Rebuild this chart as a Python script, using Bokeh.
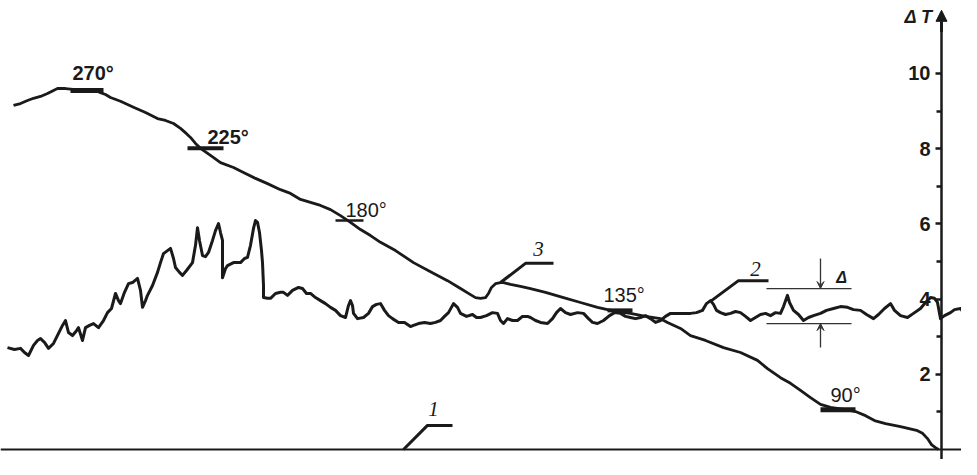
from bokeh.plotting import figure
from bokeh.models import Range1d, LinearAxis, FixedTicker, Arrow, NormalHead, VeeHead, ColumnDataSource
from bokeh.core.properties import value
from bokeh.embed import file_html
from bokeh.resources import INLINE

# ---- data (x in arbitrary sweep units, y = ΔT) ----
curve1_x = [0, 977]
curve1_y = [0.0, 0.0]

curve3_x = [13, 20, 27, 33, 40, 47, 53, 57, 65, 75, 85, 95, 100, 105, 110, 120, 133, 145, 157, 165,
            173, 180, 186, 190, 195, 200, 210, 220, 233, 245, 255, 267, 280, 290, 300, 310, 320, 330, 340, 350,
            360, 370, 380, 395, 413, 430, 447, 460, 470, 475, 480, 485, 488, 491, 495, 500, 503, 510, 520, 530,
            545, 563, 580, 597, 607, 617, 630, 645, 660, 667, 680, 690, 705, 723, 740, 757, 767, 780, 790, 800,
            810, 820, 830, 845, 855, 865, 874, 885, 900, 916, 922, 927, 931, 935, 938]
curve3_y = [9.15, 9.20, 9.28, 9.34, 9.39, 9.47, 9.55, 9.60, 9.60, 9.57, 9.57, 9.55, 9.49, 9.44, 9.36, 9.26, 9.10, 8.96, 8.80, 8.75,
            8.67, 8.54, 8.40, 8.30, 8.14, 8.01, 7.82, 7.63, 7.50, 7.34, 7.21, 7.07, 6.91, 6.81, 6.65, 6.57, 6.49, 6.38, 6.22, 6.04,
            5.85, 5.69, 5.51, 5.29, 4.97, 4.73, 4.49, 4.28, 4.12, 4.04, 4.02, 4.04, 4.15, 4.31, 4.41, 4.44, 4.44, 4.39, 4.34, 4.28,
            4.18, 4.04, 3.91, 3.78, 3.72, 3.67, 3.62, 3.54, 3.48, 3.38, 3.22, 3.03, 2.90, 2.71, 2.58, 2.37, 2.15, 1.91, 1.76, 1.57,
            1.38, 1.20, 1.12, 1.06, 1.01, 0.90, 0.77, 0.69, 0.61, 0.51, 0.43, 0.29, 0.13, 0.05, 0.0]

curve2_x = [7, 14, 20, 24, 28, 33, 37, 40, 44, 48, 53, 58, 62, 65, 68, 72, 76, 78, 82, 85,
            89, 93, 98, 103, 107, 111, 115, 118, 120, 124, 128, 132, 137, 140, 142, 145, 147, 152, 157, 160,
            163, 167, 170, 173, 175, 179, 182, 186, 192, 195, 197, 199, 202, 205, 208, 212, 215, 218, 220, 222,
            222, 225, 227, 233, 240, 244, 247, 250, 253, 255, 257, 259, 261, 262, 263, 263, 267, 270, 275, 280,
            283, 287, 292, 298, 302, 306, 310, 315, 320, 325, 330, 335, 340, 345, 348, 350, 352, 353, 357, 363,
            368, 372, 376, 380, 384, 388, 392, 398, 404, 410, 413, 418, 424, 430, 435, 440, 444, 448, 453, 457,
            460, 466, 472, 476, 480, 486, 492, 497, 500, 503, 507, 512, 517, 522, 527, 530, 535, 540, 547, 552,
            556, 560, 565, 570, 577, 583, 588, 592, 597, 603, 609, 614, 620, 625, 630, 635, 640, 645, 650, 655,
            660, 665, 670, 680, 690, 696, 702, 706, 710, 713, 716, 720, 725, 730, 735, 740, 745, 750, 755, 760,
            765, 770, 775, 780, 783, 787, 789, 793, 798, 803, 808, 813, 820, 826, 833, 840, 847, 853, 860, 866,
            873, 878, 884, 890, 894, 900, 907, 913, 920, 925, 930, 934, 937, 940, 944, 950, 954, 960, 963, 968,
            973]
curve2_y = [2.71, 2.66, 2.69, 2.58, 2.50, 2.77, 2.90, 2.95, 2.85, 2.69, 2.82, 3.09, 3.30, 3.43, 3.11, 3.03, 3.16, 3.24, 2.90, 3.24,
            3.30, 3.35, 3.24, 3.43, 3.64, 3.75, 4.15, 3.96, 3.88, 4.18, 4.41, 4.44, 4.55, 4.23, 3.78, 3.96, 4.10, 4.36, 4.71, 4.97,
            5.21, 5.29, 5.35, 5.08, 4.84, 4.71, 4.63, 4.76, 4.97, 5.43, 5.90, 5.56, 5.16, 5.13, 5.24, 5.56, 5.82, 6.01, 5.77, 5.56,
            4.57, 4.81, 4.89, 4.97, 4.97, 5.08, 5.11, 5.43, 5.88, 6.09, 6.04, 5.77, 5.29, 4.97, 4.36, 4.04, 4.02, 4.02, 4.15, 4.18,
            4.18, 4.10, 4.23, 4.31, 4.28, 4.15, 4.15, 4.04, 3.96, 3.88, 3.78, 3.70, 3.56, 3.51, 3.83, 3.96, 3.83, 3.62, 3.48, 3.51,
            3.62, 3.80, 3.86, 3.88, 3.70, 3.56, 3.48, 3.38, 3.38, 3.27, 3.30, 3.35, 3.38, 3.35, 3.38, 3.43, 3.54, 3.64, 3.88, 3.78,
            3.62, 3.54, 3.59, 3.51, 3.51, 3.56, 3.64, 3.62, 3.43, 3.35, 3.48, 3.43, 3.43, 3.54, 3.54, 3.51, 3.43, 3.38, 3.35, 3.48,
            3.64, 3.75, 3.64, 3.59, 3.64, 3.62, 3.48, 3.38, 3.35, 3.43, 3.56, 3.64, 3.62, 3.54, 3.51, 3.48, 3.51, 3.56, 3.48, 3.38,
            3.43, 3.54, 3.62, 3.62, 3.62, 3.64, 3.70, 3.88, 3.96, 3.86, 3.70, 3.64, 3.59, 3.62, 3.67, 3.64, 3.54, 3.43, 3.51, 3.59,
            3.62, 3.56, 3.64, 3.62, 3.80, 4.10, 3.91, 3.70, 3.59, 3.43, 3.51, 3.56, 3.62, 3.70, 3.75, 3.80, 3.78, 3.72, 3.70, 3.59,
            3.48, 3.59, 3.75, 3.88, 3.70, 3.56, 3.51, 3.62, 3.75, 3.91, 4.04, 4.02, 3.91, 3.48, 3.56, 3.64, 3.72, 3.75, 3.64, 3.51,
            3.35]

# angle marks on curve 3
angle_labels = ["270°", "225°", "180°", "135°", "90°"]
mark_x0 = [70, 187, 335, 607, 820]
mark_x1 = [103, 223, 363, 632, 855]
mark_y = [9.55, 8.01, 6.09, 3.70, 1.06]
mark_w = [5, 4, 2.5, 4, 5]
angle_lbl_x = [72, 207, 345, 603, 830]
angle_lbl_y = [10.00, 8.30, 6.36, 4.10, 1.44]
angle_lbl_style = ["bold", "bold", "normal", "normal", "normal"]

# curve number leaders
curve_ids = ["1", "3", "2"]
leader_xs = [[403, 427, 452], [500, 525, 553], [711, 738, 768]]
leader_ys = [[0.0, 0.64, 0.64], [4.44, 4.95, 4.95], [3.96, 4.49, 4.49]]
id_x = [433, 538, 755]
id_y = [1.09, 5.32, 4.81]

# noise amplitude Δ
delta_hi = 4.28
delta_lo = 3.35
delta_x0, delta_x1, delta_xc = 766, 851, 820
delta_top, delta_bot = 5.08, 2.71

y_ticks = [2, 4, 6, 8, 10]
y_minor = [1, 3, 5, 7, 9]

FONT = "Liberation Sans"

p = figure(width=961, height=459, x_range=Range1d(0, 961), y_range=Range1d(-0.266, 11.941),
           output_backend="svg", toolbar_location=None, min_border=0,
           x_axis_type=None, y_axis_type=None, outline_line_color=None,
           background_fill_color="white", border_fill_color="white")

# baseline (curve 1)
p.line(curve1_x, curve1_y, line_color="#1a1a1a", line_width=2.2)
# curve 3
p.line(curve3_x, curve3_y, line_color="#1a1a1a", line_width=2.8, line_join="round")
# curve 2
p.line(curve2_x, curve2_y, line_color="#1a1a1a", line_width=3, line_join="round")

# angle marks
p.segment(x0=mark_x0, x1=mark_x1, y0=mark_y, y1=mark_y, line_color="#1a1a1a", line_width=mark_w)
src_a = ColumnDataSource(dict(x=angle_lbl_x, y=angle_lbl_y, t=angle_labels, s=angle_lbl_style))
p.text(x="x", y="y", text="t", source=src_a, text_font=value(FONT), text_font_style="s",
       text_font_size="20px", text_align="left", text_baseline="middle", text_color="#1a1a1a")

# leaders and curve numbers
p.multi_line(xs=leader_xs, ys=leader_ys, line_color="#1a1a1a", line_width=3)
p.text(x=id_x, y=id_y, text=curve_ids, text_font=value("Liberation Serif"), text_font_style="italic",
       text_font_size="21px", text_align="center", text_baseline="middle", text_color="#1a1a1a")

# Δ indicator
p.segment(x0=[delta_x0, delta_x0], x1=[delta_x1, delta_x1], y0=[delta_hi, delta_lo], y1=[delta_hi, delta_lo],
          line_color="#333333", line_width=1.3)
p.add_layout(Arrow(end=VeeHead(size=7, line_color="#333333", fill_color="#333333", line_width=1),
                   x_start=delta_xc, y_start=delta_top, x_end=delta_xc, y_end=delta_hi,
                   line_color="#333333", line_width=1.3))
p.add_layout(Arrow(end=VeeHead(size=7, line_color="#333333", fill_color="#333333", line_width=1),
                   x_start=delta_xc, y_start=delta_bot, x_end=delta_xc, y_end=delta_lo,
                   line_color="#333333", line_width=1.3))
p.text(x=[841], y=[4.57], text=["Δ"], text_font=value(FONT), text_font_style="bold italic",
       text_font_size="16px", text_align="center", text_baseline="middle", text_color="#1a1a1a")

# y axis inside the frame
yax = LinearAxis(fixed_location=941, ticker=FixedTicker(ticks=y_ticks, minor_ticks=y_minor),
                 bounds=(-0.75, 11.3),
                 axis_line_width=2.5, axis_line_color="#1a1a1a",
                 major_tick_in=0, major_tick_out=6, major_tick_line_width=2.5, major_tick_line_color="#1a1a1a",
                 minor_tick_in=0, minor_tick_out=5, minor_tick_line_width=2.5, minor_tick_line_color="#1a1a1a",
                 major_label_standoff=5, major_label_text_font=FONT, major_label_text_font_style="bold",
                 major_label_text_font_size="20px", major_label_text_color="#1a1a1a")
p.add_layout(yax, "left")
p.add_layout(Arrow(end=NormalHead(size=11, line_color="#1a1a1a", fill_color="#1a1a1a"),
                   x_start=941, y_start=11.1, x_end=941, y_end=11.68,
                   line_color="#1a1a1a", line_width=3))
p.text(x=[918], y=[11.49], text=["Δ T"], text_font=value(FONT), text_font_style="bold italic",
       text_font_size="18px", text_align="center", text_baseline="middle", text_color="#1a1a1a")

open("out.html", "w").write(file_html(p, INLINE))
